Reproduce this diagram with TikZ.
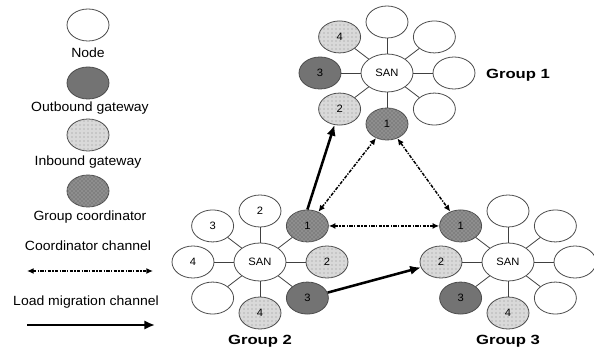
\documentclass[tikz,border=0pt]{standalone}
\usepackage{fontspec}
\setmainfont{Liberation Sans}[FakeStretch=1.05]
\newfontfamily\grpfont{Liberation Sans}[FakeStretch=1.25]
\usetikzlibrary{arrows.meta,shapes,patterns}

\tikzset{
  leaf/.style={ellipse,draw=black!70,line width=0.6pt,fill=white,minimum width=31.5pt,
    minimum height=24pt,inner sep=0pt,font=\fontsize{8}{9}\selectfont},
  outgw/.style={leaf,fill=black!55},
  ingw/.style={leaf,fill=black!15,postaction={pattern=dots,pattern color=black!45}},
  grpcoord/.style={leaf,fill=black!50,postaction={pattern=crosshatch dots,pattern color=black!25}},
  san/.style={leaf,minimum width=39pt,minimum height=28.5pt},
  spoke/.style={draw=black!75,line width=0.6pt},
  coordch/.style={{Latex[length=5pt,width=4.5pt]}-{Latex[length=5pt,width=4.5pt]},
    line width=1.1pt,dash pattern=on 2.5pt off 1pt on 1pt off 1pt},
  loadch/.style={-{Latex[length=8pt,width=7pt]},line width=1.9pt},
  legtext/.style={font=\fontsize{10}{12}\selectfont},
  grptext/.style={font=\grpfont\fontsize{10}{12}\selectfont\bfseries}
}

\begin{document}
\begin{tikzpicture}[x=0.75pt,y=-0.75pt]
\useasboundingbox (0,0) rectangle (594,349);

% legend
\node[leaf] (lnode) at (88,25) {};
\node[legtext] (lnodet) at (88,53) {Node};
\node[outgw] (lout) at (88,83) {};
\node[legtext] (loutt) at (90,108) {Outbound gateway};
\node[ingw] (lin) at (88,135) {};
\node[legtext] (lint) at (88,162) {Inbound gateway};
\node[grpcoord] (lcoord) at (88,191) {};
\node[legtext] (lcoordt) at (90,217) {Group coordinator};
\node[legtext] (lcht) at (88,246) {Coordinator channel};
\coordinate (lca) at (27,271);
\coordinate (lcb) at (153,271);
\draw[coordch] (lca) -- (lcb);
\node[legtext] (llmt) at (86,302) {Load migration channel};
\coordinate (lla) at (27,325);
\coordinate (llb) at (155,325);
\draw[loadch] (lla) -- (llb);

% group 1
\begin{scope}[shift={(387,73)}]
\node[san] (g1) at (0,0) {SAN};
\def\grpa{270/a/leaf/{},315/b/leaf/{},0/c/leaf/{},45/d/leaf/{},90/e/grpcoord/1,135/f/ingw/2,180/g/outgw/3,225/h/ingw/4}
\foreach \a / \i / \kind / \txt in \grpa {
  \node[\kind] (g1\i) at (\a:67 and 51) {\txt};
  \draw[spoke] (g1) -- (g1\i);
}
\end{scope}
\node[grptext] (g1t) at (518,75) {Group 1};

% group 2
\begin{scope}[shift={(260,262)}]
\node[san] (g2) at (0,0) {SAN};
\def\grpb{270/a/leaf/2,315/b/grpcoord/1,0/c/ingw/2,45/d/outgw/3,90/e/ingw/4,135/f/leaf/{},180/g/leaf/4,225/h/leaf/3}
\foreach \a / \i / \kind / \txt in \grpb {
  \node[\kind] (g2\i) at (\a:67 and 51) {\txt};
  \draw[spoke] (g2) -- (g2\i);
}
\end{scope}
\node[grptext] (g2t) at (260,341) {Group 2};

% group 3
\begin{scope}[shift={(508,262)}]
\node[san] (g3) at (0,0) {SAN};
\def\grpc{270/a/leaf/{},315/b/leaf/{},0/c/leaf/{},45/d/leaf/{},90/e/ingw/4,135/f/outgw/3,180/g/ingw/2,225/h/grpcoord/1}
\foreach \a / \i / \kind / \txt in \grpc {
  \node[\kind] (g3\i) at (\a:67 and 51) {\txt};
  \draw[spoke] (g3) -- (g3\i);
}
\end{scope}
\node[grptext] (g3t) at (508,341) {Group 3};

% channels between groups
\draw[coordch] (g2b) -- (g1e);
\draw[coordch] (g1e) -- (g3h);
\draw[coordch] (g2b) -- (g3h);
\draw[loadch] (g2b.north) -- (g1f);
\draw[loadch] (g2d) -- (g3g);

\end{tikzpicture}
\end{document}
